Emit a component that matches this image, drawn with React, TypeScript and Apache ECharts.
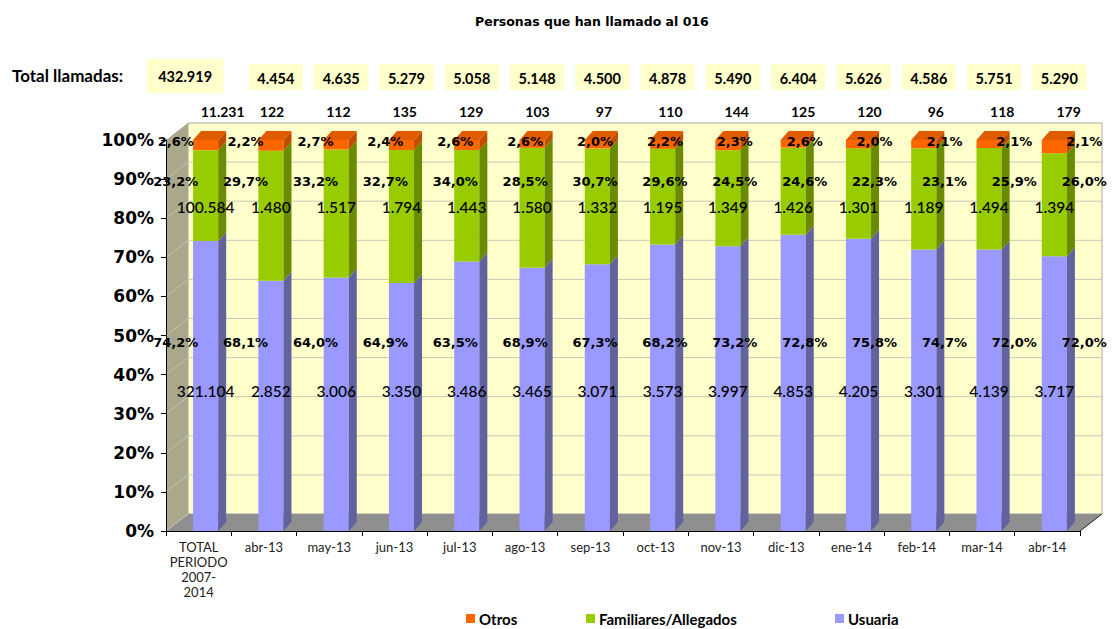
import React, { useEffect, useRef } from "react";
import * as echarts from "echarts";

const categories = [
  "TOTAL\nPERIODO\n2007-\n2014",
  "abr-13", "may-13", "jun-13", "jul-13", "ago-13", "sep-13",
  "oct-13", "nov-13", "dic-13", "ene-14", "feb-14", "mar-14", "abr-14",
];
const usuaria = [321104, 2852, 3006, 3350, 3486, 3465, 3071, 3573, 3997, 4853, 4205, 3301, 4139, 3717];
const familiares = [100584, 1480, 1517, 1794, 1443, 1580, 1332, 1195, 1349, 1426, 1301, 1189, 1494, 1394];
const otros = [11231, 122, 112, 135, 129, 103, 97, 110, 144, 125, 120, 96, 118, 179];
const totalLlamadas = [432919, 4454, 4635, 5279, 5058, 5148, 4500, 4878, 5490, 6404, 5626, 4586, 5751, 5290];
// percentage labels as printed in the chart
const pctUsuariaLabels = [74.2, 68.1, 64.0, 64.9, 63.5, 68.9, 67.3, 68.2, 73.2, 72.8, 75.8, 74.7, 72.0, 72.0];
const pctFamiliaresLabels = [23.2, 29.7, 33.2, 32.7, 34.0, 28.5, 30.7, 29.6, 24.5, 24.6, 22.3, 23.1, 25.9, 26.0];
const pctOtrosLabels = [2.6, 2.2, 2.7, 2.4, 2.6, 2.6, 2.0, 2.2, 2.3, 2.6, 2.0, 2.1, 2.1, 2.1];

const DX = 8, DY = -9; // bar depth
const WDX = 22, WDY = -17; // wall depth

const fmtN = (n: number) => String(n).replace(/\B(?=(\d{3})+(?!\d))/g, ".");
const fmtP = (v: number) => v.toFixed(1).replace(".", ",") + "%";

const PCT_FONT = "bold 13px 'DejaVu Sans'";
const CNT_FONT = "500 15.5px Lato";

function segData(layer: number) {
  return categories.map((_, i) => {
    const t = totalLlamadas[i];
    const u = (usuaria[i] / t) * 100;
    const f = ((usuaria[i] + familiares[i]) / t) * 100;
    if (layer === 0) return [i, 0, u];
    if (layer === 1) return [i, u, f];
    return [i, f, 100];
  });
}

function barSeries(name: string, layer: number, front: string, side: string, top: string, isTop: boolean) {
  return {
    type: "custom",
    name,
    z: 2 + layer,
    silent: true,
    itemStyle: { color: front },
    encode: { x: 0, y: [1, 2] },
    data: segData(layer),
    renderItem: (params: any, api: any) => {
      const i = api.value(0);
      const b = api.value(1);
      const t = api.value(2);
      const band = api.size([1, 0])[0];
      const c0 = api.coord([i, b]);
      const c1 = api.coord([i, t]);
      const w = band * 0.385;
      const cx = c0[0] + band * 0.107;
      const x0 = cx - w / 2, x1 = cx + w / 2;
      const yb = c0[1], yt = c1[1];
      const children: any[] = [
        { type: "rect", shape: { x: x0, y: yt, width: w, height: yb - yt }, style: { fill: front } },
        {
          type: "polygon",
          shape: { points: [[x1, yt], [x1 + DX, yt + DY], [x1 + DX, yb + DY], [x1, yb]] },
          style: { fill: side },
        },
      ];
      if (isTop) {
        children.push({
          type: "polygon",
          shape: { points: [[x0, yt], [x0 + DX, yt + DY], [x1 + DX, yt + DY], [x1, yt]] },
          style: { fill: top },
        });
      }
      return { type: "group", children };
    },
  };
}

export default function App() {
  const ref = useRef<HTMLDivElement>(null);
  useEffect(() => {
    if (!ref.current) return;
    const chart = echarts.init(ref.current, undefined, { renderer: "svg" });

    const wallSeries = {
      type: "custom",
      z: 1,
      silent: true,
      data: [[0, 0]],
      encode: { x: 0, y: 1 },
      renderItem: (params: any, api: any) => {
        const cs = params.coordSys;
        const x0 = cs.x, x1 = cs.x + cs.width, yTop = cs.y, yBot = cs.y + cs.height;
        const ch: any[] = [];
        ch.push({
          type: "rect",
          shape: { x: x0 + WDX, y: yTop + WDY, width: cs.width, height: cs.height },
          style: { fill: "#FFFFCC", stroke: "#A8A8A8", lineWidth: 1 },
        });
        ch.push({
          type: "polygon",
          shape: { points: [[x0, yTop], [x0 + WDX, yTop + WDY], [x0 + WDX, yBot + WDY], [x0, yBot]] },
          style: { fill: "#A9A88D" },
        });
        for (let v = 10; v < 100; v += 10) {
          const y = api.coord([0, v])[1];
          ch.push({
            type: "line",
            shape: { x1: x0 + WDX, y1: y + WDY, x2: x1 + WDX, y2: y + WDY },
            style: { stroke: "#C9C9B9", lineWidth: 1 },
          });
          ch.push({
            type: "line",
            shape: { x1: x0, y1: y, x2: x0 + WDX, y2: y + WDY },
            style: { stroke: "#C4C3AE", lineWidth: 1 },
          });
        }
        ch.push({
          type: "polygon",
          shape: { points: [[x0, yBot], [x1, yBot], [x1 + WDX, yBot + WDY], [x0 + WDX, yBot + WDY]] },
          style: { fill: "#8F8F8F" },
        });
        ch.push({
          type: "line",
          shape: { x1: x0, y1: yBot, x2: x0 + WDX, y2: yBot + WDY },
          style: { stroke: "#C4C3AE", lineWidth: 1 },
        });
        ch.push({
          type: "line",
          shape: { x1: x1, y1: yBot, x2: x1 + WDX, y2: yBot + WDY },
          style: { stroke: "#222", lineWidth: 1 },
        });
        return { type: "group", children: ch };
      },
    };

    const annotSeries = {
      type: "custom",
      z: 6,
      silent: true,
      data: categories.map((_, i) => [i, 0]),
      encode: { x: 0, y: 1 },
      renderItem: (params: any, api: any) => {
        const i = api.value(0);
        const band = api.size([1, 0])[0];
        const cx = api.coord([i, 0])[0] + band * 0.107;
        const pdx = (i - 6.5) * 4.6;
        const yAt = (v: number) => api.coord([i, v])[1];
        const txt = (text: string, x: number, y: number, font: string) => ({
          type: "text",
          style: { text, x, y, font, fill: "#000", align: "center", verticalAlign: "middle" },
        });
        const ch: any[] = [];
        ch.push(txt(fmtP(pctOtrosLabels[i]), cx + pdx, yAt(99.7), PCT_FONT));
        ch.push(txt(fmtP(pctFamiliaresLabels[i]), cx + pdx, yAt(89.3), PCT_FONT));
        ch.push(txt(fmtN(familiares[i]), cx, yAt(82.9), CNT_FONT));
        ch.push(txt(fmtP(pctUsuariaLabels[i]), cx + pdx, yAt(48.3), PCT_FONT));
        ch.push(txt(fmtN(usuaria[i]), cx, yAt(35.8), CNT_FONT));
        let bx: number, by: number, bw: number, bh: number;
        if (i === 0) {
          bx = cx - 59; by = 59; bw = 77; bh = 34;
        } else {
          bw = 54; bh = 26; bx = cx + 5 - bw / 2; by = 64;
        }
        ch.push({ type: "rect", shape: { x: bx, y: by, width: bw, height: bh }, style: { fill: "#FFFFCC" } });
        ch.push(txt(fmtN(totalLlamadas[i]), bx + bw / 2, i === 0 ? 76 : 78, "bold 14.5px Lato"));
        ch.push(txt(fmtN(otros[i]), i === 0 ? cx + 17 : cx + i * 1.1, 111, "bold 14px Lato"));
        return { type: "group", children: ch };
      },
    };

    const legendItem = (name: string, color: string, left: number) => ({
      left,
      top: 606,
      icon: "rect",
      itemWidth: 9,
      itemHeight: 9,
      itemGap: 4,
      selectedMode: false,
      textStyle: { fontFamily: "Lato", fontWeight: "bold", fontSize: 15, color: "#000", padding: [0, 0, 0, -1] },
      data: [{ name, itemStyle: { color } }],
    });

    chart.setOption({
      animation: false,
      backgroundColor: "#fff",
      title: {
        text: "Personas que han llamado al 016",
        left: 470,
        top: 10,
        textStyle: { fontFamily: "DejaVu Sans", fontWeight: "bold", fontSize: 12.5, color: "#000" },
      },
      legend: [
        legendItem("Otros", "#FF6600", 461),
        legendItem("Familiares/Allegados", "#99CC00", 581),
        legendItem("Usuaria", "#9999FF", 830),
      ],
      graphic: [
        {
          type: "text",
          left: 12,
          top: 67,
          style: { text: "Total llamadas:", font: "bold 17px Lato", fill: "#000" },
        },
      ],
      grid: { left: 166, right: 35, top: 140, bottom: 98, containLabel: false },
      xAxis: {
        type: "category",
        data: categories,
        z: 10,
        axisLine: { show: true, lineStyle: { color: "#000", width: 1 } },
        axisTick: { show: true, alignWithLabel: false, length: 5, lineStyle: { color: "#000" } },
        axisLabel: {
          interval: 0,
          margin: 8,
          fontFamily: "Lato",
          fontSize: 13,
          lineHeight: 15,
          color: "#222",
        },
        splitLine: { show: false },
      },
      yAxis: {
        type: "value",
        min: 0,
        max: 100,
        interval: 10,
        z: 10,
        axisLine: { show: true, lineStyle: { color: "#000", width: 1 } },
        axisTick: { show: true, length: 5, lineStyle: { color: "#000" } },
        axisLabel: {
          formatter: "{value}%",
          margin: 12,
          fontFamily: "DejaVu Sans",
          fontWeight: "bold",
          fontSize: 17,
          color: "#000",
        },
        splitLine: { show: false },
      },
      series: [
        wallSeries,
        barSeries("Usuaria", 0, "#9999FF", "#62629E", "#7A7AD0", false),
        barSeries("Familiares/Allegados", 1, "#99CC00", "#6A8A00", "#80AA00", false),
        barSeries("Otros", 2, "#FF6600", "#BF4C00", "#E05A00", true),
        annotSeries,
      ],
    });
    return () => chart.dispose();
  }, []);
  return <div ref={ref} style={{ width: 1115, height: 629, position: "absolute", left: 0, top: 0 }} />;
}
